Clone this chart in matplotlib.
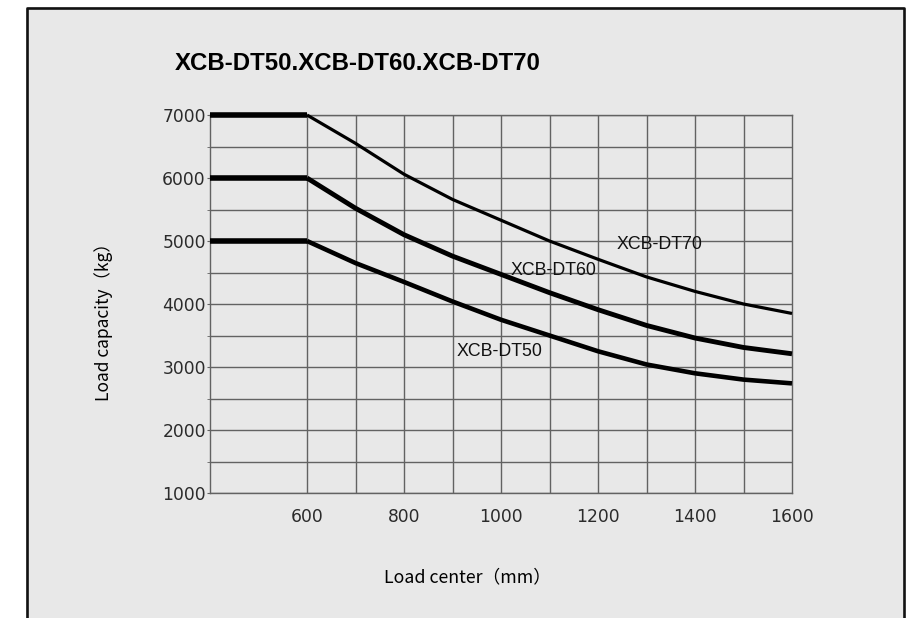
import matplotlib
matplotlib.use("Agg")
import matplotlib.pyplot as plt
from matplotlib.patches import Rectangle
from matplotlib.lines import Line2D

# ---- data ----
load_center = [400, 600, 700, 800, 900, 1000, 1100, 1200, 1300, 1400, 1500, 1600]
dt70 = [7000, 7000, 6550, 6060, 5660, 5330, 5000, 4710, 4430, 4200, 4000, 3850]
dt60 = [6000, 6000, 5520, 5100, 4760, 4470, 4180, 3910, 3660, 3460, 3310, 3210]
dt50 = [5000, 5000, 4650, 4350, 4040, 3750, 3500, 3250, 3040, 2900, 2800, 2740]

x_ticks = [600, 800, 1000, 1200, 1400, 1600]
x_grid = [600, 700, 800, 900, 1000, 1100, 1200, 1300, 1400, 1500]
y_ticks = [1000, 2000, 3000, 4000, 5000, 6000, 7000]

title = "XCB-DT50.XCB-DT60.XCB-DT70"
series_names = ["XCB-DT70", "XCB-DT60", "XCB-DT50"]

W, H = 915, 618
fig = plt.figure(figsize=(W / 100, H / 100), dpi=100, facecolor="white")

# grey panel with an open-bottom black frame
bg = "#e8e8e8"
fig.patches.append(Rectangle((26 / W, 0), (904 - 26) / W, 1 - 7 / H,
                             transform=fig.transFigure, facecolor=bg,
                             edgecolor="none", zorder=-5))
fig.lines.append(Line2D([26.5 / W, 26.5 / W, 904 / W, 904 / W],
                        [0, 1 - 7.5 / H, 1 - 7.5 / H, 0],
                        transform=fig.transFigure, color="#111111",
                        lw=1.9, zorder=1))

ax = fig.add_axes([210 / W, 1 - 493 / H, (792 - 210) / W, (493 - 115) / H])
ax.set_facecolor(bg)

grid_c = "#626262"
ax.set_xlim(400, 1600)
ax.set_ylim(1000, 7000)
ax.set_xticks(x_ticks)
ax.set_yticks(y_ticks)
ax.set_yticks(range(1500, 7000, 500), minor=True)
ax.grid(True, axis="y", which="both", color=grid_c, lw=1.0)
# no vertical line at 500 in the original
for gx in x_grid:
    ax.axvline(gx, color=grid_c, lw=1.0, zorder=1)
ax.set_axisbelow(True)
for s in ax.spines.values():
    s.set_color(grid_c)
    s.set_linewidth(1.0)

tick_font = dict(family="DejaVu Sans", size=12.3, color="#2b2b2b")
ax.set_xticklabels([str(v) for v in x_ticks], **tick_font)
ax.set_yticklabels([str(v) for v in y_ticks], **tick_font)
ax.tick_params(axis="x", which="both", length=0, pad=10.5)
ax.tick_params(axis="y", which="major", length=2, color=grid_c, pad=1)
ax.tick_params(axis="y", which="minor", length=2, color=grid_c)

# flat part is drawn heavier than the falling part
curve_lw = [2.3, 3.5, 3.3]
for vals, lw in zip([dt70, dt60, dt50], curve_lw):
    ax.plot(load_center[:2], vals[:2], color="black", lw=4.0,
            solid_capstyle="butt", zorder=3, clip_on=False)
    ax.plot(load_center[1:], vals[1:], color="black", lw=lw,
            solid_capstyle="butt", solid_joinstyle="round",
            zorder=3, clip_on=False)

label_pos = [(1239, 4952), (1019, 4535), (909, 3243)]
for name, (lx, ly) in zip(series_names, label_pos):
    ax.text(lx, ly, name, fontsize=12.8, family="Liberation Sans",
            color="#111111", ha="left", va="center", zorder=4)

fig.text(175 / W, 1 - 64 / H, title, fontsize=17.3, fontweight="bold",
         family="Liberation Sans", color="black", ha="left", va="center")

lab_font = ["Noto Sans CJK SC", "DejaVu Sans"]
fig.text(468 / W, 1 - 577 / H, "Load center（mm）", fontsize=12.8,
         family=lab_font, color="black", ha="center", va="center")
fig.text(104 / W, 1 - 318 / H, "Load capacity（kg）", fontsize=12.5,
         family=lab_font, color="black", ha="center", va="center",
         rotation=90)

fig.savefig("out.png", dpi=100, facecolor="white")
